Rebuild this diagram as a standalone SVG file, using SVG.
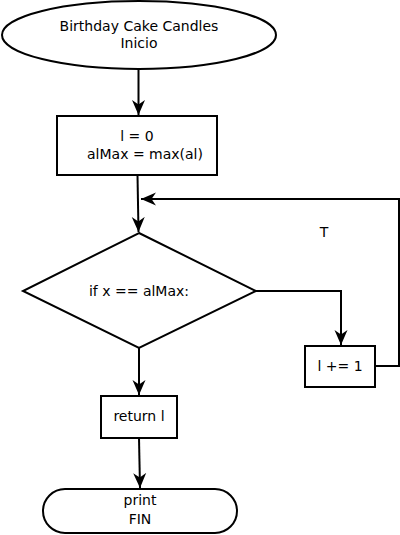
<svg xmlns="http://www.w3.org/2000/svg" width="400" height="535" viewBox="0 0 400 535">
<style>
.s{fill:#fff;stroke:#000;stroke-width:2}
.c{fill:none;stroke:#000;stroke-width:2}
text{font-family:"DejaVu Sans",sans-serif;font-size:14px;fill:#000;text-anchor:middle}
</style>
<defs>
<marker id="a" markerWidth="16" markerHeight="14" refX="15" refY="7" orient="auto" markerUnits="userSpaceOnUse">
<path d="M0,0.5 L15,7 L0,13.5 L4.5,7 Z" fill="#000"/>
</marker>
</defs>
<g id="connectors">
<path class="c" d="M138.5,69 L138.5,115" marker-end="url(#a)"/>
<path class="c" d="M137.5,175 L138.5,232" marker-end="url(#a)"/>
<path class="c" d="M256,291 L341,291 L341,345" marker-end="url(#a)"/>
<path class="c" d="M375,366 L399,366 L399,199 L141,199" marker-end="url(#a)"/>
<path class="c" d="M139,348 L139,395" marker-end="url(#a)"/>
<path class="c" d="M139,438 L140,488" marker-end="url(#a)"/>
<text x="324" y="237">T</text>
</g>
<g id="start">
<ellipse class="s" cx="139" cy="35" rx="137" ry="34"/>
<text x="139" y="31">Birthday Cake Candles</text>
<text x="139" y="48">Inicio</text>
</g>
<g id="init">
<rect class="s" x="57" y="116" width="160" height="59"/>
<text x="137" y="141">l = 0</text>
<text x="145" y="159">alMax = max(al)</text>
</g>
<g id="cond">
<path class="s" d="M139,233 L256,291 L139,348 L23,291 Z"/>
<text x="139" y="296">if x == alMax:</text>
</g>
<g id="inc">
<rect class="s" x="305" y="346" width="70" height="41"/>
<text x="340" y="371">l += 1</text>
</g>
<g id="ret">
<rect class="s" x="101" y="396" width="76" height="42"/>
<text x="139" y="421">return l</text>
</g>
<g id="end">
<rect class="s" x="43" y="489" width="194" height="44" rx="22" ry="22"/>
<text x="140" y="505">print</text>
<text x="140" y="524">FIN</text>
</g>
</svg>
